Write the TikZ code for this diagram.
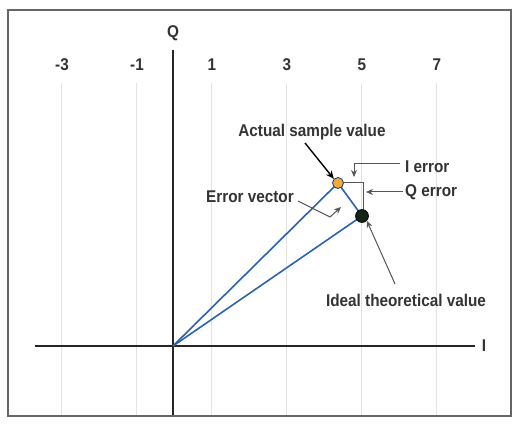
\documentclass[tikz,border=0pt]{standalone}
\usepackage{fontspec}
\setmainfont[FakeStretch=0.9]{Liberation Sans}
\usetikzlibrary{arrows.meta}
\definecolor{vecblue}{HTML}{2A62B0}
\definecolor{dotorange}{HTML}{F2A93B}
\definecolor{dotdark}{HTML}{142414}
\definecolor{leader}{HTML}{555555}
\tikzset{
  lbl/.style={font=\fontsize{17}{19}\selectfont\bfseries, text=black!80, inner sep=0pt},
  gridl/.style={draw=gray!22, line width=0.7pt},
  axisl/.style={draw=black!85, line width=1.6pt},
  vec/.style={draw=vecblue, line width=1.6pt},
  guide/.style={draw=leader, line width=1pt},
  ptr/.style={draw=leader, line width=1pt, -{Stealth[length=7pt,width=6pt]}},
  bptr/.style={draw=black, line width=1.4pt, -{Stealth[length=8pt,width=7pt]}},
}
\begin{document}
\begin{tikzpicture}[x=1pt,y=-1pt]
\useasboundingbox (0,0) rectangle (515,425);
% frame
\draw[draw=black!60, line width=1.2pt] (8,10) rectangle (511,416);
% grid lines and labels
\foreach \xx/\lab in {61/-3,136/-1,211/1,286/3,361/5,436/7} {
  \draw[gridl] (\xx,83) -- (\xx,415);
  \node[lbl] (t\lab) at (\xx+1,65) {\lab};
}
% axes
\coordinate (O) at (173,346);
\coordinate (qtop) at (173,50);
\coordinate (qbot) at (173,415);
\coordinate (ileft) at (35,346);
\coordinate (iright) at (475,346);
\draw[axisl] (qtop) -- (qbot);
\draw[axisl] (ileft) -- (iright);
\node[lbl] (Qlab) at (173,33) {Q};
\node[lbl] (Ilab) at (484,346) {I};
% points
\coordinate (A) at (338,183);
\coordinate (B) at (362,216);
\coordinate (C) at (363,183);
% error components
\draw[guide] (A) -- (C) -- (363,210);
% vectors
\draw[vec] (O) -- (A);
\draw[vec] (O) -- (B);
\draw[vec] (A) -- (B);
\node[circle, fill=dotorange, draw=vecblue!60!black, line width=0.8pt, minimum size=11pt, inner sep=0pt] (Adot) at (A) {};
\node[circle, fill=dotdark, draw=black, line width=0.6pt, minimum size=13pt, inner sep=0pt] (Bdot) at (B) {};
% labels
\node[lbl] (act) at (312,132) {Actual sample value};
\node[lbl, anchor=west] (ierr) at (405,167) {I error};
\node[lbl, anchor=west] (qerr) at (405,192) {Q error};
\node[lbl, anchor=east] (evec) at (294,197) {Error vector};
\node[lbl] (ideal) at (406,300) {Ideal theoretical value};
% pointers
\coordinate (a0) at (305,143);
\draw[bptr] (a0) -- (Adot.north west);
\coordinate (i0) at (400,164);
\coordinate (i1) at (354,164);
\draw[ptr] (i0) -- (i1) -- (354,177);
\coordinate (q0) at (403,192);
\draw[ptr] (q0) -- (366,192);
\coordinate (e0) at (298,201);
\coordinate (e1) at (330,217);
\draw[ptr] (e0) -- (e1) -- (341,207);
\coordinate (d0) at (395,284);
\draw[ptr] (d0) -- (Bdot.south east);
\end{tikzpicture}
\end{document}
